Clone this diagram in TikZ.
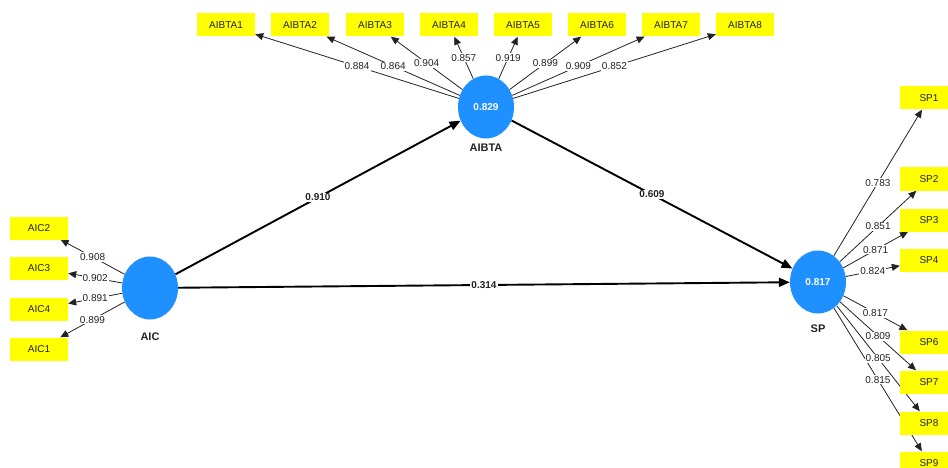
\documentclass[tikz,border=0pt]{standalone}
\usepackage{fontspec}
\setmainfont{Liberation Sans}
\usetikzlibrary{shapes.geometric,arrows.meta}
\pgfdeclarelayer{bg}
\pgfsetlayers{bg,main}
\definecolor{lvblue}{HTML}{1E90FF}
\definecolor{indyellow}{HTML}{FFFF00}
\definecolor{ink}{HTML}{222222}
\begin{document}
\begin{tikzpicture}[x=1pt,y=-1pt,
  indbox/.style={fill=indyellow, minimum width=58pt, minimum height=23pt, inner sep=0pt, text=ink, font=\fontsize{10}{11}\selectfont},
  lv/.style={ellipse, fill=lvblue, minimum width=56pt, minimum height=63pt, inner sep=0pt, text=white, font=\bfseries\fontsize{10}{11}\selectfont},
  lvname/.style={text=ink, font=\bfseries\fontsize{11}{12}\selectfont},
  loadline/.style={draw=ink, line width=0.8pt, -{Triangle[length=8pt,width=7pt]}},
  structline/.style={draw=black, line width=1.9pt, -{Triangle[length=11pt,width=9pt]}},
  lbl/.style={fill=white, inner sep=1pt, text=ink, font=\fontsize{10}{11}\selectfont, midway},
  slbl/.style={fill=white, inner sep=1pt, text=ink, font=\bfseries\fontsize{10}{11}\selectfont, midway}]
\clip (0,0) rectangle (948,468);
\useasboundingbox (0,0) rectangle (948,468);
% latent variables
\node[lv] (AIBTA) at (486,107) {0.829};
\node[lv] (AIC) at (150,288) {};
\node[lv] (SP) at (818,282) {0.817};
\node[lvname] (AIBTAname) at (486,148) {AIBTA};
\node[lvname] (AICname) at (150,337) {AIC};
\node[lvname] (SPname) at (818,329) {SP};
% AIBTA indicators
\node[indbox] (AIBTA1) at (226,25) {AIBTA1};
\node[indbox] (AIBTA2) at (300,25) {AIBTA2};
\node[indbox] (AIBTA3) at (375,25) {AIBTA3};
\node[indbox] (AIBTA4) at (449,25) {AIBTA4};
\node[indbox] (AIBTA5) at (523,25) {AIBTA5};
\node[indbox] (AIBTA6) at (597,25) {AIBTA6};
\node[indbox] (AIBTA7) at (671,25) {AIBTA7};
\node[indbox] (AIBTA8) at (745,25) {AIBTA8};
% AIC indicators
\node[indbox] (AIC2) at (39,228) {AIC2};
\node[indbox] (AIC3) at (39,268) {AIC3};
\node[indbox] (AIC4) at (39,309) {AIC4};
\node[indbox] (AIC1) at (39,349) {AIC1};
% SP indicators
\node[indbox] (SP1) at (929,98) {SP1};
\node[indbox] (SP2) at (929,179) {SP2};
\node[indbox] (SP3) at (929,220) {SP3};
\node[indbox] (SP4) at (929,260) {SP4};
\node[indbox] (SP6) at (929,342) {SP6};
\node[indbox] (SP7) at (929,382) {SP7};
\node[indbox] (SP8) at (929,423) {SP8};
\node[indbox] (SP9) at (929,463) {SP9};
\begin{pgfonlayer}{bg}
\draw[loadline] (AIBTA) -- node[lbl]{0.884} (AIBTA1);
\draw[loadline] (AIBTA) -- node[lbl]{0.864} (AIBTA2);
\draw[loadline] (AIBTA) -- node[lbl]{0.904} (AIBTA3);
\draw[loadline] (AIBTA) -- node[lbl]{0.857} (AIBTA4);
\draw[loadline] (AIBTA) -- node[lbl]{0.919} (AIBTA5);
\draw[loadline] (AIBTA) -- node[lbl]{0.899} (AIBTA6);
\draw[loadline] (AIBTA) -- node[lbl]{0.909} (AIBTA7);
\draw[loadline] (AIBTA) -- node[lbl]{0.852} (AIBTA8);
\draw[loadline] (AIC) -- node[lbl]{0.908} (AIC2);
\draw[loadline] (AIC) -- node[lbl]{0.902} (AIC3);
\draw[loadline] (AIC) -- node[lbl]{0.891} (AIC4);
\draw[loadline] (AIC) -- node[lbl]{0.899} (AIC1);
\draw[loadline] (SP) -- node[lbl]{0.783} (SP1);
\draw[loadline] (SP) -- node[lbl]{0.851} (SP2);
\draw[loadline] (SP) -- node[lbl]{0.871} (SP3);
\draw[loadline] (SP) -- node[lbl]{0.824} (SP4);
\draw[loadline] (SP) -- node[lbl]{0.817} (SP6);
\draw[loadline] (SP) -- node[lbl]{0.809} (SP7);
\draw[loadline] (SP) -- node[lbl]{0.815} (SP9);
\draw[loadline] (SP) -- node[lbl]{0.805} (SP8);
\draw[structline] (AIC) -- node[slbl]{0.910} (AIBTA);
\draw[structline] (AIBTA) -- node[slbl]{0.609} (SP);
\draw[structline] (AIC) -- node[slbl]{0.314} (SP);
\end{pgfonlayer}
\end{tikzpicture}
\end{document}
